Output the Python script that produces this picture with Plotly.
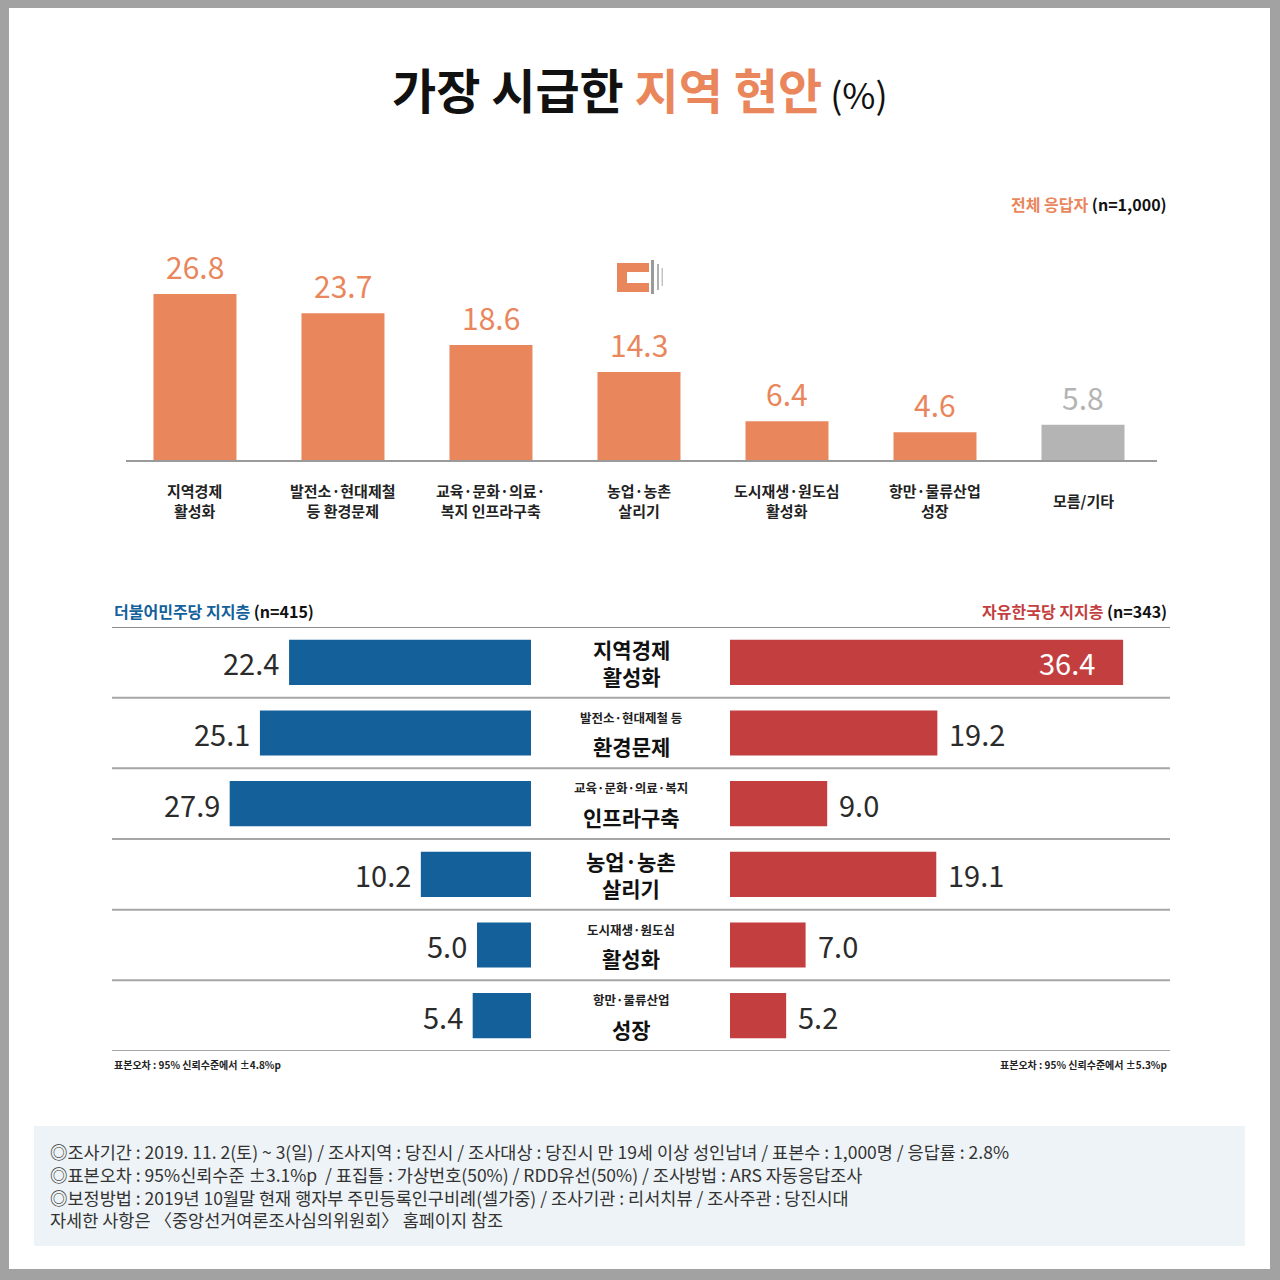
import plotly.graph_objects as go

# ---------------- data ----------------
top_categories = ["지역경제<br>활성화", "발전소·현대제철<br>등 환경문제", "교육·문화·의료·<br>복지 인프라구축",
                  "농업·농촌<br>살리기", "도시재생·원도심<br>활성화", "항만·물류산업<br>성장", "모름/기타"]
top_values = [26.8, 23.7, 18.6, 14.3, 6.4, 4.6, 5.8]

row_small = ["", "발전소·현대제철 등", "교육·문화·의료·복지", "", "도시재생·원도심", "항만·물류산업"]
row_big = ["지역경제<br>활성화", "환경문제", "인프라구축", "농업·농촌<br>살리기", "활성화", "성장"]
dem_values = [22.4, 25.1, 27.9, 10.2, 5.0, 5.4]
lkp_values = [36.4, 19.2, 9.0, 19.1, 7.0, 5.2]

footer_lines = [
    "◎조사기간 : 2019. 11. 2(토) ~ 3(일) / 조사지역 : 당진시 / 조사대상 : 당진시 만 19세 이상 성인남녀 / 표본수 : 1,000명 / 응답률 : 2.8%",
    "◎표본오차 : 95%신뢰수준 ±3.1%p  / 표집틀 : 가상번호(50%) / RDD유선(50%) / 조사방법 : ARS 자동응답조사",
    "◎보정방법 : 2019년 10월말 현재 행자부 주민등록인구비례(셀가중) / 조사기관 : 리서치뷰 / 조사주관 : 당진시대",
    "자세한 사항은 〈중앙선거여론조사심의위원회〉 홈페이지 참조",
]

# ---------------- style ----------------
W = H = 1280
FONT = "Noto Sans CJK KR"
ORANGE = "#EA865C"
GRAY_BAR = "#B4B4B4"
BLUE = "#13609A"
RED = "#C33F3F"
DARK = "#2b2b2b"


def px(x):
    return x / W


def py(y):
    return 1 - y / H


fig = go.Figure()

# top bar chart
top_colors = [ORANGE] * 6 + [GRAY_BAR]
xs = list(range(len(top_values)))
fig.add_trace(go.Bar(x=xs, y=top_values, marker=dict(color=top_colors, line=dict(width=0)),
                     width=83 / 148, xaxis="x", yaxis="y", hoverinfo="skip", showlegend=False))

# bottom diverging chart
rows = list(range(len(dem_values)))
fig.add_trace(go.Bar(x=dem_values, y=rows, orientation="h", marker=dict(color=BLUE, line=dict(width=0)),
                     width=0.64, xaxis="x2", yaxis="y2", hoverinfo="skip", showlegend=False))
fig.add_trace(go.Bar(x=lkp_values, y=rows, orientation="h", marker=dict(color=RED, line=dict(width=0)),
                     width=0.64, xaxis="x3", yaxis="y3", hoverinfo="skip", showlegend=False))

annotations = []
shapes = []

# background border
shapes.append(dict(type="rect", xref="paper", yref="paper", x0=px(9), x1=px(1270), y0=py(1269), y1=py(8),
                   fillcolor="white", line=dict(width=0), layer="below"))
# footer box
shapes.append(dict(type="rect", xref="paper", yref="paper", x0=px(34), x1=px(1245), y0=py(1246), y1=py(1126),
                   fillcolor="#EEF3F7", line=dict(width=0), layer="below"))

# title
annotations.append(dict(xref="paper", yref="paper", x=px(640), y=py(88), xanchor="center", yanchor="middle",
                        showarrow=False,
                        text=f"<b>가장 시급한 <span style='color:{ORANGE}'>지역 현안</span></b>"
                             f"<span style='font-size:36px'> (%)</span>",
                        font=dict(family=FONT, size=48, color="#111")))
annotations.append(dict(xref="paper", yref="paper", x=px(1169), y=py(204), xanchor="right", yanchor="middle",
                        showarrow=False,
                        text=f"<b><span style='color:{ORANGE}'>전체 응답자</span> (n=1,000)</b>",
                        font=dict(family=FONT, size=16, color="#111")))

# top value labels & category labels
for i, v in enumerate(top_values):
    annotations.append(dict(xref="x", yref="y", x=i, y=v, xanchor="center", yanchor="bottom", yshift=4,
                            showarrow=False, text=f"{v:.1f}",
                            font=dict(family=FONT, size=30, color=top_colors[i])))
    annotations.append(dict(xref="x", yref="paper", x=i, y=py(500), xanchor="center", yanchor="middle",
                            showarrow=False, text=f"<b>{top_categories[i]}</b>",
                            font=dict(family=FONT, size=15, color="#222")))

# logo
shapes += [
    dict(type="rect", xref="paper", yref="paper", x0=px(617), x1=px(649), y0=py(292), y1=py(263),
         fillcolor=ORANGE, line=dict(width=0)),
    dict(type="rect", xref="paper", yref="paper", x0=px(627), x1=px(649.5), y0=py(283), y1=py(272),
         fillcolor="white", line=dict(width=0)),
    dict(type="rect", xref="paper", yref="paper", x0=px(651), x1=px(654), y0=py(294), y1=py(260),
         fillcolor="#9a9a9a", line=dict(width=0)),
    dict(type="rect", xref="paper", yref="paper", x0=px(657), x1=px(659), y0=py(290), y1=py(264),
         fillcolor="#b0b0b0", line=dict(width=0)),
    dict(type="rect", xref="paper", yref="paper", x0=px(661.5), x1=px(663), y0=py(286), y1=py(268),
         fillcolor="#c4c4c4", line=dict(width=0)),
]

# bottom headings
annotations.append(dict(xref="paper", yref="paper", x=px(112), y=py(611), xanchor="left", yanchor="middle",
                        showarrow=False,
                        text=f"<b><span style='color:{BLUE}'>더불어민주당 지지층</span> (n=415)</b>",
                        font=dict(family=FONT, size=16, color="#111")))
annotations.append(dict(xref="paper", yref="paper", x=px(1169), y=py(611), xanchor="right", yanchor="middle",
                        showarrow=False,
                        text=f"<b><span style='color:{RED}'>자유한국당 지지층</span> (n=343)</b>",
                        font=dict(family=FONT, size=16, color="#111")))

# row separators
for k in range(len(rows) + 1):
    yv = k - 0.5
    shapes.append(dict(type="line", xref="paper", yref="y2", x0=px(112), x1=px(1170), y0=yv, y1=yv,
                       line=dict(color="#a6a6a6" if k else "#8c8c8c", width=2)))

# row labels & values
for i in rows:
    if row_small[i]:
        annotations.append(dict(xref="paper", yref="y2", x=px(631), y=i, yshift=16, xanchor="center",
                                yanchor="middle", showarrow=False, text=f"<b>{row_small[i]}</b>",
                                font=dict(family=FONT, size=12.5, color="#222")))
        annotations.append(dict(xref="paper", yref="y2", x=px(631), y=i, yshift=-13, xanchor="center",
                                yanchor="middle", showarrow=False, text=f"<b>{row_big[i]}</b>",
                                font=dict(family=FONT, size=21, color="#111")))
    else:
        annotations.append(dict(xref="paper", yref="y2", x=px(631), y=i, xanchor="center",
                                yanchor="middle", showarrow=False, text=f"<b>{row_big[i]}</b>",
                                font=dict(family=FONT, size=21, color="#111")))
    # democrat values (left of bar)
    annotations.append(dict(xref="x2", yref="y2", x=dem_values[i], y=i, xanchor="right", yanchor="middle",
                            xshift=-8, showarrow=False, text=f"{dem_values[i]:.1f}",
                            font=dict(family=FONT, size=29, color=DARK)))
    # lkp values
    inside = lkp_values[i] >= 30
    annotations.append(dict(xref="x3", yref="y3", x=lkp_values[i], y=i,
                            xanchor="right" if inside else "left", yanchor="middle",
                            xshift=-26 if inside else 10, showarrow=False, text=f"{lkp_values[i]:.1f}",
                            font=dict(family=FONT, size=29, color="white" if inside else DARK)))

# sampling error notes
annotations.append(dict(xref="paper", yref="paper", x=px(112), y=py(1064), xanchor="left", yanchor="middle",
                        showarrow=False, text="<b>표본오차 : 95% 신뢰수준에서 ±4.8%p</b>",
                        font=dict(family=FONT, size=10, color="#222")))
annotations.append(dict(xref="paper", yref="paper", x=px(1169), y=py(1064), xanchor="right", yanchor="middle",
                        showarrow=False, text="<b>표본오차 : 95% 신뢰수준에서 ±5.3%p</b>",
                        font=dict(family=FONT, size=10, color="#222")))

# footer (single multi-line text block)
annotations.append(dict(xref="paper", yref="paper", x=px(48), y=py(1185), xanchor="left", yanchor="middle",
                        align="left", showarrow=False, text="<br>".join(footer_lines),
                        font=dict(family=FONT, size=17.5, color="#333")))

top_y0 = py(461)
fig.update_layout(
    width=W, height=H, margin=dict(l=0, r=0, t=0, b=0),
    paper_bgcolor="#A2A2A2", plot_bgcolor="rgba(0,0,0,0)",
    font=dict(family=FONT),
    barmode="overlay",
    xaxis=dict(domain=[px(126), px(1157)], range=[-0.466, 6.5], showgrid=False, zeroline=False,
               showticklabels=False, ticks="", anchor="y", fixedrange=True),
    yaxis=dict(domain=[top_y0, top_y0 + 30 * 6.23 / H], range=[0, 30], showgrid=False, zeroline=False,
               showticklabels=False, showline=False, anchor="x", fixedrange=True),
    xaxis2=dict(domain=[px(531 - 30 * 10.8), px(531)], range=[30, 0], showgrid=False, zeroline=False,
                showticklabels=False, anchor="y2", fixedrange=True),
    yaxis2=dict(domain=[py(1051), py(627)], range=[5.5, -0.5], showgrid=False, zeroline=False,
                showticklabels=False, anchor="x2", fixedrange=True),
    xaxis3=dict(domain=[px(730), px(730 + 40 * 10.8)], range=[0, 40], showgrid=False, zeroline=False,
                showticklabels=False, anchor="y3", fixedrange=True),
    yaxis3=dict(domain=[py(1051), py(627)], range=[5.5, -0.5], showgrid=False, zeroline=False,
                showticklabels=False, anchor="x3", fixedrange=True),
    annotations=annotations,
    shapes=shapes + [dict(type="line", xref="paper", yref="paper", x0=px(126), x1=px(1157),
                          y0=top_y0, y1=top_y0, line=dict(color="#9a9a9a", width=2))],
)

fig.write_html("out.html", config={"displayModeBar": False},
               post_script="document.body.style.margin='0';document.body.style.overflow='hidden';")
